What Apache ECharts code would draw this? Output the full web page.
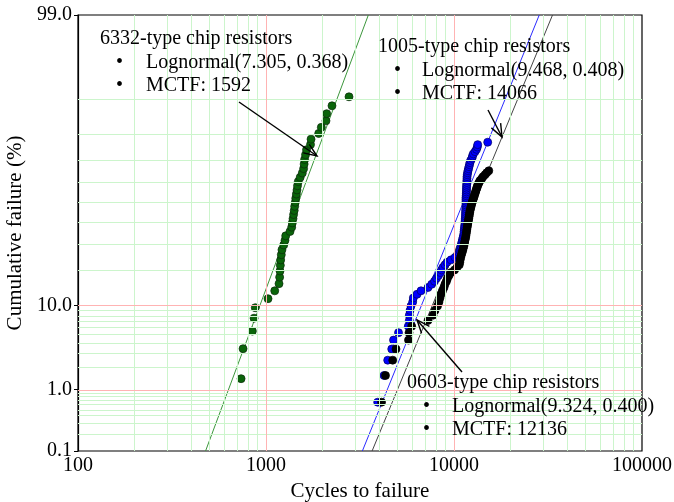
<!DOCTYPE html>
<html><head><meta charset="utf-8">
<script src="https://cdn.jsdelivr.net/npm/echarts@6/dist/echarts.min.js"></script>
<style>html,body{margin:0;padding:0;background:#fff}#c{width:674px;height:502px}</style>
</head><body><div id="c"></div>
<script>
// ---------- data ----------
const cycles6332 = [737, 755, 846, 864, 877, 1025, 1113, 1173, 1182, 1187, 1192, 1197, 1206, 1216, 1242, 1262, 1273, 1342, 1370, 1380, 1392, 1402, 1413, 1421, 1432, 1440, 1451, 1462, 1471, 1485, 1520, 1560, 1585, 1595, 1605, 1623, 1643, 1725, 1736, 1907, 1969, 2085, 2103, 2244, 2764];
const pct6332 = [1.42, 3.44, 5.47, 7.49, 9.51, 11.54, 13.56, 15.59, 17.61, 19.64, 21.66, 23.68, 25.71, 27.73, 29.76, 31.78, 33.81, 35.83, 37.85, 39.88, 41.90, 43.93, 45.95, 47.98, 50.00, 52.02, 54.05, 56.07, 58.10, 60.12, 62.15, 64.17, 66.19, 68.22, 70.24, 72.27, 74.29, 76.32, 78.34, 80.36, 82.39, 84.41, 86.44, 88.46, 90.49];

const cycles0603 = [3928, 4244, 4440, 4664, 4768, 5068, 5714, 5785, 5785, 5834, 5906, 6030, 6075, 6357, 6677, 7273, 7610, 7876, 8072, 8272, 8477, 8581, 8741, 8957, 9180, 9639, 10122, 10540, 10630, 10761, 10827, 10893, 10961, 11029, 11095, 11164, 11231, 11301, 11301, 11343, 11372, 11398, 11441, 11441, 11470, 11483, 11512, 11512, 11526, 11539, 11555, 11582, 11582, 11582, 11582, 11582, 11582, 11611, 11625, 11641, 11654, 11654, 11668, 11684, 11698, 11711, 11725, 11725, 11768, 11812, 11871, 11942, 12017, 12089, 12163, 12268, 12465, 12543, 12668, 12934, 13175, 13303, 13370, 15111];
const pct0603 = [0.65, 1.57, 2.49, 3.41, 4.34, 5.26, 6.18, 7.10, 8.03, 8.95, 9.87, 10.79, 11.72, 12.64, 13.56, 14.48, 15.41, 16.33, 17.25, 18.17, 19.10, 20.02, 20.94, 21.86, 22.79, 23.71, 24.63, 25.55, 26.48, 27.40, 28.32, 29.24, 30.17, 31.09, 32.01, 32.93, 33.86, 34.78, 35.70, 36.62, 37.55, 38.47, 39.39, 40.31, 41.24, 42.16, 43.08, 44.00, 44.93, 45.85, 46.77, 47.69, 48.62, 49.54, 50.46, 51.38, 52.31, 53.23, 54.15, 55.07, 56.00, 56.92, 57.84, 58.76, 59.69, 60.61, 61.53, 62.45, 63.38, 64.30, 65.22, 66.14, 67.07, 67.99, 68.91, 69.83, 70.76, 71.68, 72.60, 73.52, 74.45, 75.37, 76.29, 77.21];

const cycles1005 = [4116, 4321, 4720, 4915, 5728, 5763, 5957, 7273, 7734, 7924, 8171, 8323, 8425, 8530, 8688, 8849, 8957, 9124, 9236, 9406, 9639, 10062, 10375, 10671, 10737, 10789, 10853, 10933, 11029, 11123, 11191, 11273, 11343, 11398, 11455, 11526, 11568, 11611, 11654, 11698, 11741, 11785, 11828, 11885, 11942, 11986, 12031, 12075, 12120, 12163, 12240, 12312, 12375, 12450, 12543, 12636, 12744, 12823, 12919, 13015, 13111, 13205, 13303, 13419, 13583, 13751, 14040, 14268, 14621, 14928, 15314];
const pct1005 = [0.65, 1.57, 2.49, 3.41, 4.34, 5.26, 6.18, 7.10, 8.03, 8.95, 9.87, 10.79, 11.72, 12.64, 13.56, 14.48, 15.41, 16.33, 17.25, 18.17, 19.10, 20.02, 20.94, 21.86, 22.79, 23.71, 24.63, 25.55, 26.48, 27.40, 28.32, 29.24, 30.17, 31.09, 32.01, 32.93, 33.86, 34.78, 35.70, 36.62, 37.55, 38.47, 39.39, 40.31, 41.24, 42.16, 43.08, 44.00, 44.93, 45.85, 46.77, 47.69, 48.62, 49.54, 50.46, 51.38, 52.31, 53.23, 54.15, 55.07, 56.00, 56.92, 57.84, 58.76, 59.69, 60.61, 61.53, 62.45, 63.38, 64.30, 65.22];

// fitted lognormal lines: endpoints [cycles, %]
const fitLine6332 = [[477, 0.1], [3502, 99]];
const fitLine0603 = [[3255, 0.1], [28410, 99]];
const fitLine1005 = [[3667, 0.1], [33425, 99]];

// axes
const xTickValues = [100, 1000, 10000, 100000];
const yTickPct = [0.1, 1.0, 10.0, 99.0];
const yTickLabels = ['0.1', '1.0', '10.0', '99.0'];
const xGridGreen = [200, 300, 400, 500, 600, 700, 800, 900, 2000, 3000, 4000, 5000, 6000, 7000, 8000, 9000, 20000, 30000, 40000, 50000, 60000, 70000, 80000, 90000];
const xGridRed = [1000, 10000];
const yGridGreen = [0.2, 0.3, 0.4, 0.5, 0.6, 0.7, 0.8, 0.9, 2, 3, 4, 5, 6, 7, 8, 9, 20, 30, 40, 50, 60, 70, 80, 90];
const yGridRed = [1, 10];

// annotation texts
const labels6332 = ['6332-type chip resistors', 'Lognormal(7.305, 0.368)', 'MCTF: 1592'];
const labels1005 = ['1005-type chip resistors', 'Lognormal(9.468, 0.408)', 'MCTF: 14066'];
const labels0603 = ['0603-type chip resistors', 'Lognormal(9.324, 0.400)', 'MCTF: 12136'];

// ---------- probability (normal quantile) scale ----------
function probit(p) {
  const a = [-3.969683028665376e+01, 2.209460984245205e+02, -2.759285104469687e+02, 1.383577518672690e+02, -3.066479806614716e+01, 2.506628277459239e+00];
  const b = [-5.447609879822406e+01, 1.615858368580409e+02, -1.556989798598866e+02, 6.680131188771972e+01, -1.328068155288572e+01];
  const c = [-7.784894002430293e-03, -3.223964580411365e-01, -2.400758277161838e+00, -2.549732539343734e+00, 4.374664141464968e+00, 2.938163982698783e+00];
  const d = [7.784695709041462e-03, 3.224671290700398e-01, 2.445134137142996e+00, 3.754408661907416e+00];
  const pl = 0.02425, ph = 1 - pl;
  let q, r;
  if (p < pl) { q = Math.sqrt(-2 * Math.log(p)); return (((((c[0]*q+c[1])*q+c[2])*q+c[3])*q+c[4])*q+c[5]) / ((((d[0]*q+d[1])*q+d[2])*q+d[3])*q+1); }
  if (p <= ph) { q = p - 0.5; r = q*q; return (((((a[0]*r+a[1])*r+a[2])*r+a[3])*r+a[4])*r+a[5])*q / (((((b[0]*r+b[1])*r+b[2])*r+b[3])*r+b[4])*r+1); }
  q = Math.sqrt(-2 * Math.log(1 - p));
  return -(((((c[0]*q+c[1])*q+c[2])*q+c[3])*q+c[4])*q+c[5]) / ((((d[0]*q+d[1])*q+d[2])*q+d[3])*q+1);
}
const Z = pct => probit(pct / 100);
const yMin = Z(0.1), yMax = Z(99);
const toPts = (xs, ps) => xs.map((x, i) => [x, Z(ps[i])]);

const FONT = '"Liberation Serif", "Times New Roman", serif';
const GREEN_GRID = '#ccf5cc';
const RED_GRID = '#ffb3b3';

const gridMarks = [];
xGridGreen.forEach(v => gridMarks.push({ xAxis: v, lineStyle: { color: GREEN_GRID, type: 'solid', width: 1 } }));
yGridGreen.forEach(v => gridMarks.push({ yAxis: Z(v), lineStyle: { color: GREEN_GRID, type: 'solid', width: 1 } }));
xGridRed.forEach(v => gridMarks.push({ xAxis: v, lineStyle: { color: RED_GRID, type: 'solid', width: 1 } }));
yGridRed.forEach(v => gridMarks.push({ yAxis: Z(v), lineStyle: { color: RED_GRID, type: 'solid', width: 1 } }));

function fitSeries(name, pts, color) {
  return { name, type: 'line', data: pts.map(p => [p[0], Z(p[1])]), symbol: 'none', z: 2, silent: true,
    lineStyle: { color, width: 1, type: 'solid' }, animation: false };
}
function scatterSeries(name, xs, ps, color, border, z) {
  return { name, type: 'scatter', data: toPts(xs, ps), symbol: 'circle', symbolSize: 8, z, silent: true,
    itemStyle: { color, borderColor: border, borderWidth: 0.7, opacity: 1 }, animation: false };
}

// annotation graphic helpers (pixel layout)
function textEl(str, x, y) {
  return { type: 'text', x, y, silent: true, z: 100,
    style: { text: str, font: '20px ' + FONT, fill: '#000', verticalAlign: 'middle', textVerticalAlign: 'middle', align: 'left' } };
}
function block(lines, x0, y0, bx, tx, dy) {
  return [textEl(lines[0], x0, y0), textEl('\u2022', bx, y0 + dy), textEl(lines[1], tx, y0 + dy),
          textEl('\u2022', bx, y0 + 2 * dy), textEl(lines[2], tx, y0 + 2 * dy)];
}
function arrow(x1, y1, x2, y2) {
  const ang = Math.atan2(y2 - y1, x2 - x1) + Math.PI;
  const L = 14, spread = 0.38;
  const a = [x2 + L * Math.cos(ang + spread), y2 + L * Math.sin(ang + spread)];
  const b = [x2 + L * Math.cos(ang - spread), y2 + L * Math.sin(ang - spread)];
  return [
    { type: 'line', silent: true, z: 100, shape: { x1, y1, x2, y2 }, style: { stroke: '#000', lineWidth: 1.4 } },
    { type: 'polyline', silent: true, z: 100, shape: { points: [a, [x2, y2], b] }, style: { stroke: '#000', lineWidth: 1.4, fill: null } }
  ];
}

const graphics = [].concat(
  block(labels6332, 100, 39, 116, 146, 23.5),
  block(labels1005, 378, 47, 394, 422, 23.5),
  block(labels0603, 407, 383, 423, 452, 23.5),
  arrow(239, 102, 317, 156),
  arrow(488, 110, 502, 137),
  arrow(462, 372, 417, 320)
);

const chart = echarts.init(document.getElementById('c'), null, { renderer: 'canvas' });
chart.setOption({
  animation: false,
  backgroundColor: '#fff',
  grid: { left: 78, right: 32, top: 15, bottom: 51, containLabel: false, outerBoundsMode: 'none',
    show: true, borderColor: '#000', borderWidth: 1.2, backgroundColor: 'transparent' },
  xAxis: {
    type: 'log', logBase: 10, min: 100, max: 100000,
    name: 'Cycles to failure', nameLocation: 'middle', nameGap: 27,
    nameTextStyle: { fontFamily: FONT, fontSize: 21, color: '#000' },
    axisLine: { show: true, lineStyle: { color: '#000', width: 1.2 } },
    axisTick: { show: false },
    splitLine: { show: false },
    axisLabel: { customValues: xTickValues, fontFamily: FONT, fontSize: 20, color: '#000', margin: 5,
      formatter: v => String(Math.round(v)) }
  },
  yAxis: {
    type: 'value', min: yMin, max: yMax,
    name: 'Cumulative failure (%)', nameLocation: 'middle', nameGap: 51,
    nameTextStyle: { fontFamily: FONT, fontSize: 21, color: '#000' },
    axisLine: { show: true, lineStyle: { color: '#000', width: 1.2 } },
    axisTick: { show: true, customValues: yTickPct.map(Z), length: 4, lineStyle: { color: '#000' } },
    splitLine: { show: false },
    axisLabel: { customValues: yTickPct.map(Z), fontFamily: FONT, fontSize: 20, color: '#000', margin: 6,
      formatter: v => { let best = 0; yTickPct.forEach((p, i) => { if (Math.abs(Z(p) - v) < Math.abs(Z(yTickPct[best]) - v)) best = i; }); return yTickLabels[best]; } }
  },
  series: [
    { name: 'grid', type: 'line', data: [], z: 1, silent: true, animation: false,
      markLine: { silent: true, symbol: ['none', 'none'], label: { show: false }, animation: false,
        lineStyle: { type: 'solid', width: 1 }, data: gridMarks } },
    fitSeries('fit 6332', fitLine6332, '#3c963c'),
    fitSeries('fit 0603', fitLine0603, '#2a2aff'),
    fitSeries('fit 1005', fitLine1005, '#444444'),
    scatterSeries('6332', cycles6332, pct6332, '#0a640a', '#0b2a0b', 3),
    scatterSeries('0603', cycles0603, pct0603, '#0000ff', '#000060', 3),
    scatterSeries('1005', cycles1005, pct1005, '#000000', '#000000', 4)
  ],
  graphic: graphics
});
</script>
</body></html>
